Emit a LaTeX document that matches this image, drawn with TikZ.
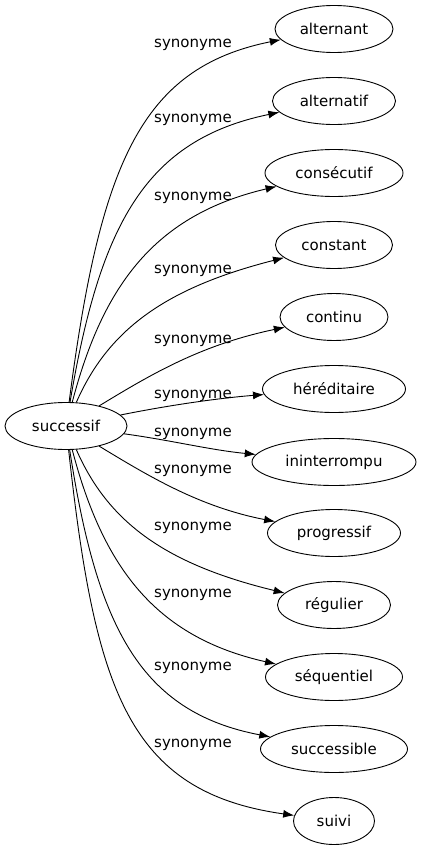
\documentclass[tikz,border=0pt]{standalone}
\usepackage{fontspec}
\setmainfont{DejaVu Sans}
\usetikzlibrary{arrows.meta, shapes.geometric}

\begin{document}
\begin{tikzpicture}[x=1pt, y=-1pt, >={Latex[length=11pt, width=8pt]}, line width=0.9pt,
  mot/.style={draw, ellipse, inner sep=0pt, minimum height=47pt, font=\fontsize{15}{18}\selectfont},
  syn/.style={anchor=base, font=\fontsize{15}{18}\selectfont}]

\useasboundingbox (0,0) rectangle (422,851);

\node[mot, minimum width=122pt] (successif) at (66,426) {successif};

\node[mot, minimum width=118pt] (alternant) at (334,29) {alternant};
\node[mot, minimum width=123pt] (alternatif) at (334,101) {alternatif};
\node[mot, minimum width=138pt] (consecutif) at (334,173) {consécutif};
\node[mot, minimum width=117pt] (constant) at (334,245) {constant};
\node[mot, minimum width=108pt] (continu) at (334,317) {continu};
\node[mot, minimum width=143pt] (hereditaire) at (334,389) {héréditaire};
\node[mot, minimum width=164pt] (ininterrompu) at (334,462) {ininterrompu};
\node[mot, minimum width=133pt] (progressif) at (334,533) {progressif};
\node[mot, minimum width=113pt] (regulier) at (334,605) {régulier};
\node[mot, minimum width=137pt] (sequentiel) at (334,677) {séquentiel};
\node[mot, minimum width=147pt] (successible) at (334,749) {successible};
\node[mot, minimum width=81pt] (suivi) at (334,821) {suivi};

\node[syn] (syn1) at (193,48) {synonyme};
\node[syn] (syn2) at (193,122) {synonyme};
\node[syn] (syn3) at (193,200) {synonyme};
\node[syn] (syn4) at (193,273) {synonyme};
\node[syn] (syn5) at (193,343) {synonyme};
\node[syn] (syn6) at (193,398) {synonyme};
\node[syn] (syn7) at (193,436) {synonyme};
\node[syn] (syn8) at (193,473) {synonyme};
\node[syn] (syn9) at (193,530) {synonyme};
\node[syn] (syn10) at (193,597) {synonyme};
\node[syn] (syn11) at (193,670) {synonyme};
\node[syn] (syn12) at (193,747) {synonyme};

\draw[->] (successif) .. controls (100,165) and (140,68) .. (alternant);
\draw[->] (successif) .. controls (100,225) and (145,140) .. (alternatif);
\draw[->] (successif) .. controls (103,285) and (155,215) .. (consecutif);
\draw[->] (successif) .. controls (108,330) and (165,288) .. (constant);
\draw[->] (successif) .. controls (150,375) and (200,345) .. (continu);
\draw[->] (successif) .. controls (170,405) and (220,398) .. (hereditaire);
\draw[->] (successif) .. controls (170,440) and (210,450) .. (ininterrompu);
\draw[->] (successif) .. controls (150,477) and (200,507) .. (progressif);
\draw[->] (successif) .. controls (108,522) and (165,564) .. (regulier);
\draw[->] (successif) .. controls (103,567) and (155,637) .. (sequentiel);
\draw[->] (successif) .. controls (97,627) and (140,712) .. (successible);
\draw[->] (successif) .. controls (95,690) and (128,792) .. (suivi);

\end{tikzpicture}
\end{document}
